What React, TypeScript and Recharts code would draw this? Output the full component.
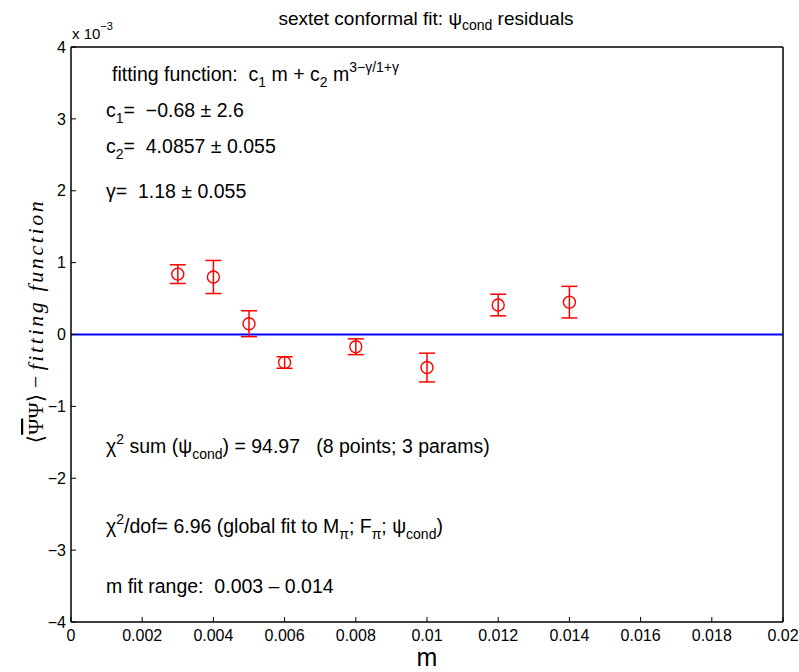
import React from 'react';
import { ScatterChart, Scatter, XAxis, YAxis, ErrorBar, ReferenceLine } from 'recharts';

const masses = [0.003, 0.004, 0.005, 0.006, 0.008, 0.01, 0.012, 0.014];
const residuals = [0.84, 0.8, 0.15, -0.39, -0.17, -0.46, 0.41, 0.45];
const errors = [0.13, 0.23, 0.18, 0.08, 0.11, 0.2, 0.15, 0.22];
const fitResidual = 0;

const xTicks = [0, 0.002, 0.004, 0.006, 0.008, 0.01, 0.012, 0.014, 0.016, 0.018, 0.02];
const xTickLabels = ['0', '0.002', '0.004', '0.006', '0.008', '0.01', '0.012', '0.014', '0.016', '0.018', '0.02'];
const yTicks = [-4, -3, -2, -1, 0, 1, 2, 3, 4];
const yTickLabels = ['\u22124', '\u22123', '\u22122', '\u22121', '0', '1', '2', '3', '4'];

const data = masses.map((m, i) => ({ m, r: residuals[i], e: errors[i] }));

const FONT = '"Liberation Sans", Arial, Helvetica, sans-serif';
const W = 799;
const H = 672;

const Marker = (props: any) => {
  const { cx, cy } = props;
  if (cx == null || cy == null) return null;
  return <circle cx={cx} cy={cy} r={6} fill="none" stroke="#ff0000" strokeWidth={1.4} />;
};

const xFmt = (v: number) => {
  const i = xTicks.indexOf(v);
  return i >= 0 ? xTickLabels[i] : String(v);
};
const yFmt = (v: number) => {
  const i = yTicks.indexOf(v);
  return i >= 0 ? yTickLabels[i] : String(v);
};

const tickStyle = { fill: '#000', fontSize: 16, fontFamily: FONT };
const axisLine = { stroke: '#000', strokeWidth: 1.5 };
const tickLine = { stroke: '#000', strokeWidth: 1 };

export default function App() {
  return (
    <div style={{ position: 'relative', width: W, height: H, background: '#fff', overflow: 'visible' }}>
      <style>{'html,body{margin:0;padding:0;overflow:hidden;} .recharts-surface{overflow:visible;} .recharts-wrapper{overflow:visible !important;}'}</style>
      <ScatterChart width={W} height={H} margin={{ top: 46, right: 15, bottom: 49, left: 70 }}>
        <XAxis
          xAxisId={0}
          dataKey="m"
          type="number"
          domain={[0, 0.02]}
          ticks={xTicks}
          tickFormatter={xFmt}
          height={1}
          tickSize={-5}
          tickMargin={13}
          tick={tickStyle}
          axisLine={axisLine}
          tickLine={tickLine}
          interval={0}
          allowDataOverflow
        />
        <XAxis
          xAxisId="top"
          orientation="top"
          type="number"
          domain={[0, 0.02]}
          ticks={xTicks}
          height={1}
          tickSize={-5}
          tick={false}
          axisLine={axisLine}
          tickLine={tickLine}
          interval={0}
          allowDataOverflow
        />
        <YAxis
          yAxisId={0}
          dataKey="r"
          type="number"
          domain={[-4, 4]}
          ticks={yTicks}
          tickFormatter={yFmt}
          width={1}
          tickSize={-5}
          tickMargin={10}
          tick={tickStyle}
          axisLine={axisLine}
          tickLine={tickLine}
          interval={0}
          allowDataOverflow
        />
        <YAxis
          yAxisId="right"
          orientation="right"
          type="number"
          domain={[-4, 4]}
          ticks={yTicks}
          width={1}
          tickSize={-5}
          tick={false}
          axisLine={axisLine}
          tickLine={tickLine}
          interval={0}
          allowDataOverflow
        />
        <ReferenceLine xAxisId={0} yAxisId={0} y={fitResidual} stroke="#0000ff" strokeWidth={2} />
        <Scatter xAxisId={0} yAxisId={0} data={data} dataKey="r" shape={<Marker />} isAnimationActive={false}>
          <ErrorBar dataKey="e" direction="y" width={8} stroke="#ff0000" strokeWidth={1.5} isAnimationActive={false} />
        </Scatter>
        <Scatter xAxisId="top" yAxisId="right" data={[]} isAnimationActive={false} />
      </ScatterChart>
      <svg
        width={W}
        height={H}
        style={{ position: 'absolute', left: 0, top: 0, pointerEvents: 'none', fontFamily: FONT }}
      >
        <text x={426} y={25} fontSize={19} textAnchor="middle" fill="#000" style={{ whiteSpace: 'pre' }}>
          sextet conformal fit: {'\u03C8'}
          <tspan fontSize={14} dy={5}>cond</tspan>
          <tspan dy={-5}> residuals</tspan>
        </text>
        <text x={72} y={39} fontSize={15} fill="#000" style={{ whiteSpace: 'pre' }}>
          x 10
          <tspan fontSize={11} dy={-9}>{'\u22123'}</tspan>
        </text>
        <text x={427} y={666} fontSize={25} textAnchor="middle" fill="#000">m</text>
        <g transform="translate(43 321) rotate(-90)">
          <text
            x={0}
            y={0}
            fontSize={22}
            textAnchor="middle"
            fill="#000"
            fontFamily='"Liberation Serif", "DejaVu Serif", serif'
            style={{ whiteSpace: 'pre' }}
          >
            <tspan>{'\u27E8'}</tspan>
            <tspan style={{ textDecoration: 'overline' }}>{'\u03A8'}</tspan>
            <tspan>{'\u03A8\u27E9 \u2212 '}</tspan>
            <tspan fontStyle="italic" letterSpacing={2.6}>fitting function</tspan>
          </text>
        </g>
        <g fontSize={19.5} fill="#000">
          <text x={112} y={81} style={{ whiteSpace: 'pre' }}>
            {'fitting function:  c'}
            <tspan fontSize={14} dy={6}>1</tspan>
            <tspan dy={-6}>{' m + c'}</tspan>
            <tspan fontSize={14} dy={6}>2</tspan>
            <tspan dy={-6}>{' m'}</tspan>
            <tspan fontSize={14} dy={-9}>{'3\u2212\u03B3/1+\u03B3'}</tspan>
          </text>
          <text x={106} y={117} style={{ whiteSpace: 'pre' }}>
            c<tspan fontSize={14} dy={6}>1</tspan>
            <tspan dy={-6}>{'=  \u22120.68 \u00B1 2.6'}</tspan>
          </text>
          <text x={106} y={153} style={{ whiteSpace: 'pre' }}>
            c<tspan fontSize={14} dy={6}>2</tspan>
            <tspan dy={-6}>{'=  4.0857 \u00B1 0.055'}</tspan>
          </text>
          <text x={106} y={198} style={{ whiteSpace: 'pre' }}>
            {'\u03B3=  1.18 \u00B1 0.055'}
          </text>
          <text x={106} y={453} style={{ whiteSpace: 'pre' }}>
            {'\u03C7'}
            <tspan fontSize={14} dy={-9}>2</tspan>
            <tspan dy={9}>{' sum (\u03C8'}</tspan>
            <tspan fontSize={14} dy={6}>cond</tspan>
            <tspan dy={-6}>{') = 94.97   (8 points; 3 params)'}</tspan>
          </text>
          <text x={106} y={533} style={{ whiteSpace: 'pre' }}>
            {'\u03C7'}
            <tspan fontSize={14} dy={-9}>2</tspan>
            <tspan dy={9}>{'/dof= 6.96 (global fit to M'}</tspan>
            <tspan fontSize={14} dy={6}>{'\u03C0'}</tspan>
            <tspan dy={-6}>{'; F'}</tspan>
            <tspan fontSize={14} dy={6}>{'\u03C0'}</tspan>
            <tspan dy={-6}>{'; \u03C8'}</tspan>
            <tspan fontSize={14} dy={6}>cond</tspan>
            <tspan dy={-6}>)</tspan>
          </text>
          <text x={106} y={593} style={{ whiteSpace: 'pre' }}>
            {'m fit range:  0.003 \u2013 0.014'}
          </text>
        </g>
      </svg>
    </div>
  );
}
